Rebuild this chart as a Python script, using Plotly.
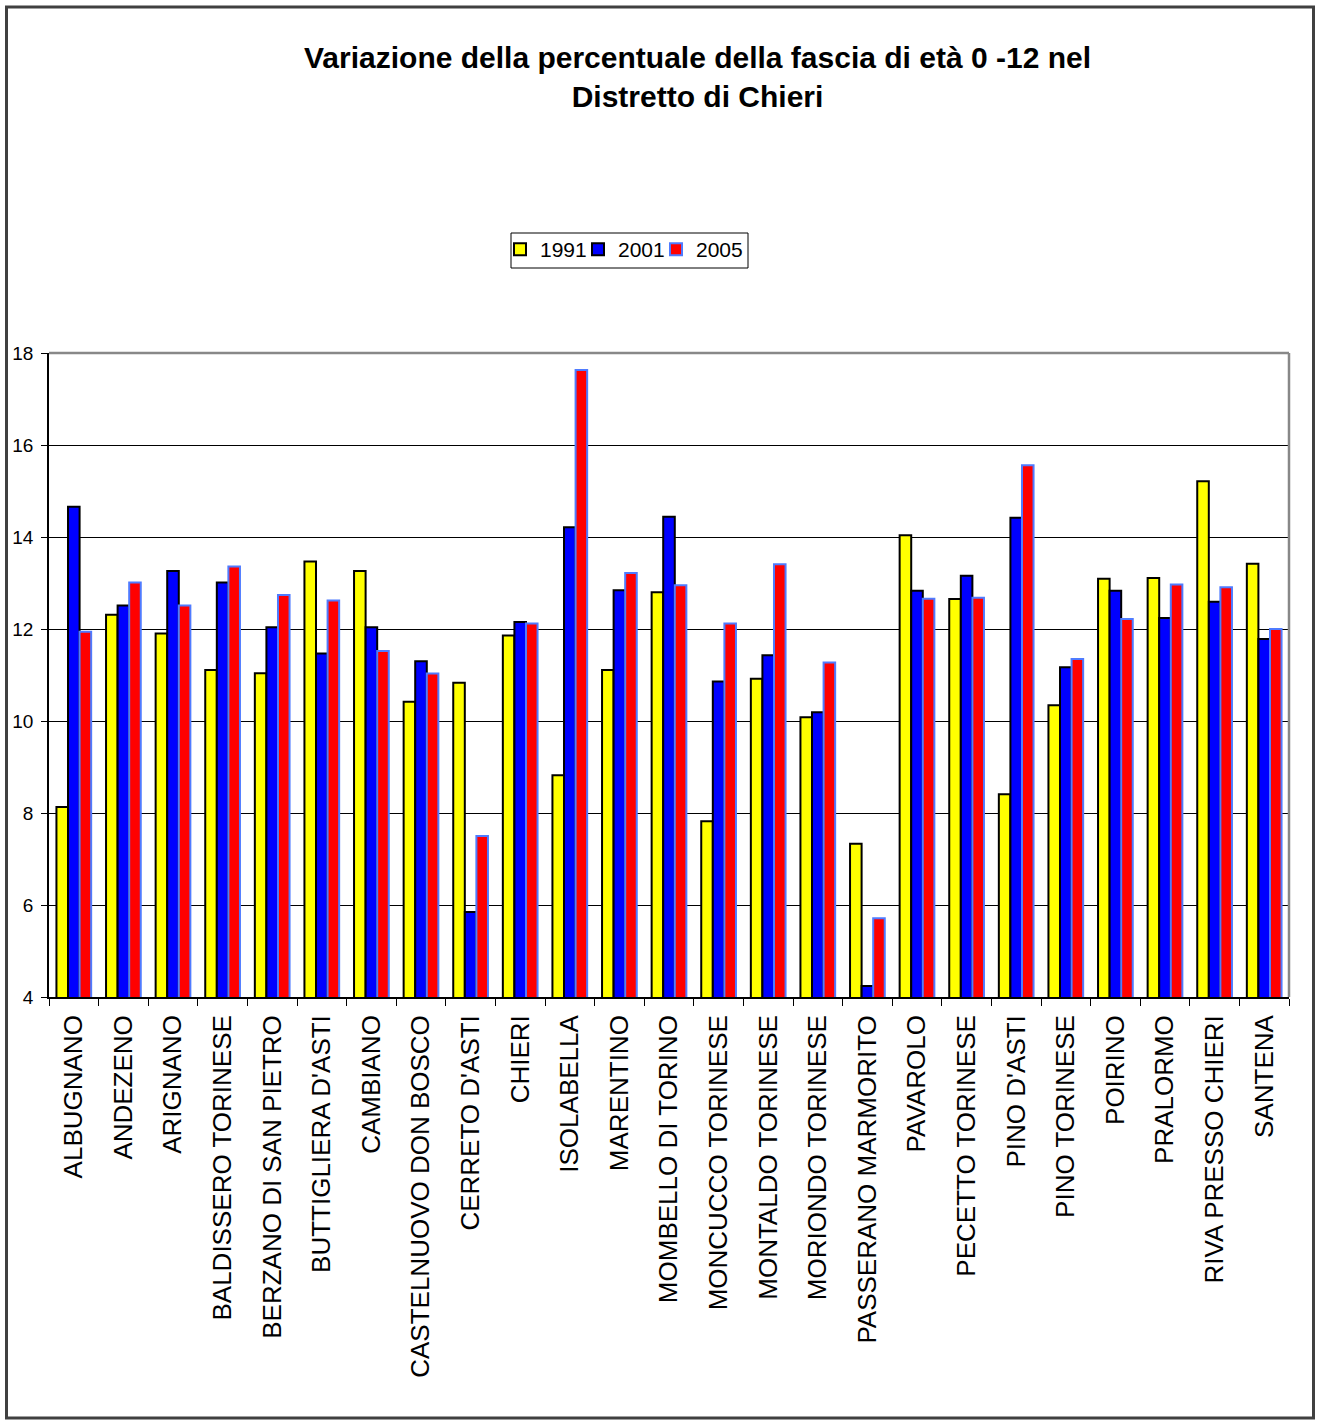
import plotly.graph_objects as go

# Comuni del Distretto di Chieri
comuni = [
    "ALBUGNANO", "ANDEZENO", "ARIGNANO", "BALDISSERO TORINESE",
    "BERZANO DI SAN PIETRO", "BUTTIGLIERA D'ASTI", "CAMBIANO",
    "CASTELNUOVO DON BOSCO", "CERRETO D'ASTI", "CHIERI", "ISOLABELLA",
    "MARENTINO", "MOMBELLO DI TORINO", "MONCUCCO TORINESE",
    "MONTALDO TORINESE", "MORIONDO TORINESE", "PASSERANO MARMORITO",
    "PAVAROLO", "PECETTO TORINESE", "PINO D'ASTI", "PINO TORINESE",
    "POIRINO", "PRALORMO", "RIVA PRESSO CHIERI", "SANTENA",
]

# Percentuale della fascia 0-12 anni
v1991 = [8.13, 12.31, 11.90, 11.11, 11.04, 13.47, 13.26, 10.42, 10.83, 11.86,
         8.82, 11.11, 12.80, 7.82, 10.92, 10.08, 7.33, 14.04, 12.65, 8.41,
         10.34, 13.09, 13.11, 15.21, 13.42]
v2001 = [14.66, 12.51, 13.26, 13.01, 12.04, 11.47, 12.04, 11.30, 5.85, 12.15,
         14.21, 12.84, 14.44, 10.86, 11.43, 10.19, 4.24, 12.83, 13.16, 14.42,
         11.17, 12.83, 12.24, 12.59, 11.78]
v2005 = [11.94, 13.01, 12.51, 13.36, 12.74, 12.62, 11.52, 11.03, 7.50, 12.12,
         17.63, 13.22, 12.95, 12.12, 13.41, 11.27, 5.71, 12.66, 12.68, 15.56,
         11.35, 12.22, 12.97, 12.91, 12.00]

anni = ["1991", "2001", "2005"]
serie = [v1991, v2001, v2005]
riempimento = ["#FFFF00", "#0000FF", "#FF0000"]
bordo = ["#000000", "#000000", "#4F7BFF"]
larghezza_voce = [33, 33, 60]

FONT = "Liberation Sans, Arial, Helvetica, sans-serif"

W, H = 1319, 1420
L, R, T, B = 49, 30, 353, 423
pw, ph = W - L - R, H - T - B


def px_x(p):
    return (p - L) / pw


def px_y(p):
    return (H - B - p) / ph


fig = go.Figure()
for nome, valori, fc, lc, lw in zip(anni, serie, riempimento, bordo,
                                    larghezza_voce):
    fig.add_trace(go.Bar(
        name=nome, x=comuni, y=valori, legendwidth=lw,
        marker=dict(color=fc, line=dict(color=lc, width=2)),
    ))

fig.update_layout(
    width=W, height=H,
    margin=dict(l=L, r=R, t=T, b=B, pad=0),
    paper_bgcolor="white", plot_bgcolor="white",
    barmode="group", bargap=0.3, bargroupgap=0,
    font=dict(family=FONT, color="black"),
    showlegend=True,
    legend=dict(
        orientation="h", x=px_x(500), y=px_y(229),
        xanchor="left", yanchor="top",
        bgcolor="rgba(0,0,0,0)", borderwidth=0,
        font=dict(family=FONT, size=21, color="black"),
        itemwidth=30, tracegroupgap=0,
    ),
    xaxis=dict(
        type="category", tickson="boundaries",
        ticks="outside", ticklen=7, tickwidth=1, tickcolor="black",
        tickangle=-90, tickfont=dict(family=FONT, size=26, color="black"),
        showline=True, linecolor="black", linewidth=1.5,
        showgrid=False, ticklabelstandoff=6,
    ),
    yaxis=dict(
        range=[4, 18], dtick=2, tick0=4,
        ticks="outside", ticklen=6, tickwidth=1, tickcolor="black",
        tickfont=dict(family=FONT, size=19, color="black"),
        showline=True, linecolor="black", linewidth=1.5,
        showgrid=True, gridcolor="black", gridwidth=1,
        zeroline=False, ticklabelstandoff=4,
    ),
    annotations=[dict(
        text="<b>Variazione della percentuale della fascia di età 0 -12 nel"
             "<br>Distretto di Chieri</b>",
        xref="paper", yref="paper", x=px_x(697), y=px_y(77),
        xanchor="center", yanchor="middle", showarrow=False,
        font=dict(family=FONT, size=30, color="black"),
    )],
    shapes=[
        # riquadro della legenda
        dict(type="rect", xref="paper", yref="paper",
             x0=px_x(511), x1=px_x(748), y0=px_y(268), y1=px_y(233),
             line=dict(color="black", width=1), fillcolor="white",
             layer="below"),
        # bordo grigio del riquadro del grafico (lati superiore e destro)
        dict(type="line", xref="paper", yref="paper", x0=0, x1=1, y0=1, y1=1,
             line=dict(color="#888888", width=2.5), layer="above"),
        dict(type="line", xref="paper", yref="paper", x0=1, x1=1, y0=0, y1=1,
             line=dict(color="#888888", width=2.5), layer="above"),
        # cornice esterna
        dict(type="rect", xref="paper", yref="paper",
             x0=px_x(6.5), x1=px_x(1313.5), y0=px_y(1418), y1=px_y(7),
             line=dict(color="#404040", width=3), fillcolor="rgba(0,0,0,0)"),
    ],
)

fig.write_html("out.html")
